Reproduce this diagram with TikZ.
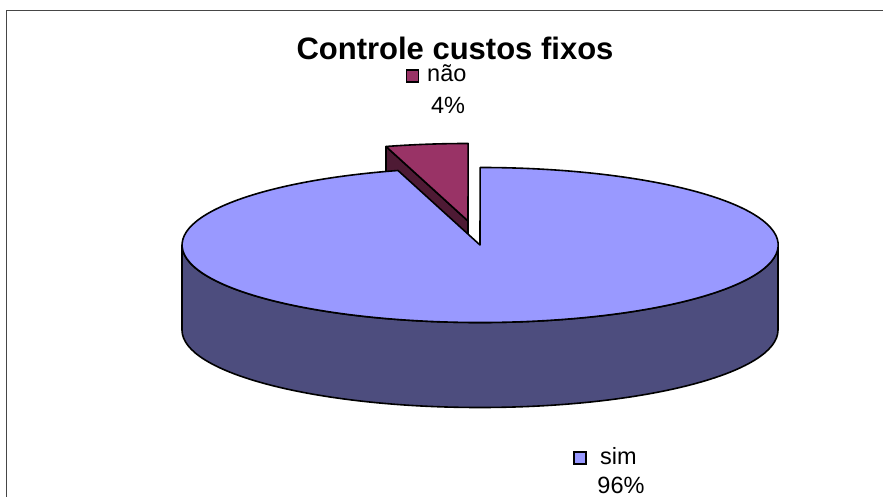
\documentclass[tikz,border=0pt]{standalone}
\usepackage{fontspec}
\setmainfont{Liberation Sans}
\begin{document}
\begin{tikzpicture}[x=1bp,y=-1bp,
  outline/.style={draw=black,line width=1.6bp,line join=round},
  legbox/.style={draw=black,line width=1.2bp,minimum width=12bp,minimum height=12bp,inner sep=0pt},
  legtext/.style={font=\fontsize{23.5bp}{28bp}\selectfont,inner sep=0pt,anchor=base west},
  titletext/.style={font=\fontsize{31bp}{36bp}\selectfont\bfseries,inner sep=0pt,anchor=base}]
\definecolor{simtop}{RGB}{153,153,255}
\definecolor{simside}{RGB}{77,77,126}
\definecolor{naotop}{RGB}{153,51,102}
\definecolor{naoside}{RGB}{78,26,52}
\definecolor{framecol}{RGB}{70,70,70}
\useasboundingbox (0,0) rectangle (883,497);
% frame
\draw[framecol,line width=1.4bp] (6.5,497) -- (6.5,10.5) -- (883,10.5);
% coordinates
\coordinate (C) at (480,245);
\coordinate (S) at (468,221);
% exploded slice: radial face
\draw[outline,fill=naoside] (S) -- ++(-82,-74.5) -- ++(0,85) -- ++(82,74.5) -- cycle;
% exploded slice: top
\draw[outline,fill=naotop] (S) -- ++(-82,-74.5) arc[start angle=-106,end angle=-90,x radius=298,y radius=77.5] -- cycle;
% main pie side
\draw[outline,fill=simside] (182,245) arc[start angle=-180,end angle=-360,x radius=298,y radius=77.5] -- ++(0,85) arc[start angle=0,end angle=180,x radius=298,y radius=77.5] -- cycle;
% main pie top
\draw[outline,fill=simtop] (C) -- ++(-82,-74.5) arc[start angle=-106,end angle=-450,x radius=298,y radius=77.5] -- cycle;
% title
\node[titletext] (title) at (455,60) {Controle custos fixos};
% legend nao
\node[legbox,fill=naotop] (naobox) at (412.5,76) {};
\node[legtext] (naolabel) at (427,81.5) {não};
\node[legtext,anchor=base] (naopct) at (448,114) {4\%};
% legend sim
\node[legbox,fill=simtop] (simbox) at (580,458) {};
\node[legtext] (simlabel) at (600,464) {sim};
\node[legtext,anchor=base] (simpct) at (621,493) {96\%};
\end{tikzpicture}
\end{document}
